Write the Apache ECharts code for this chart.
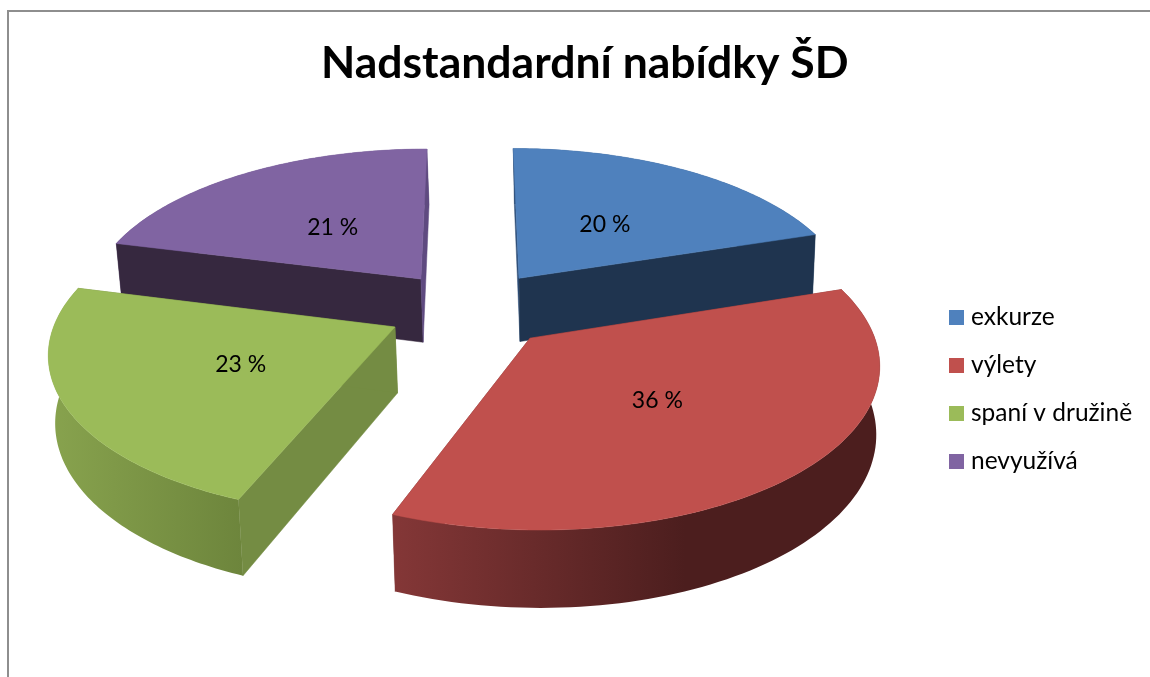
<!DOCTYPE html>
<html>
<head>
<meta charset="utf-8">
<style>html,body{margin:0;padding:0;background:#fff}#c{width:1150px;height:677px}</style>
<script src="https://cdn.jsdelivr.net/npm/echarts@6/dist/echarts.min.js"></script>
</head>
<body>
<div id="c"></div>
<script>
const titleText = 'Nadstandardní nabídky ŠD';
const categories = ['exkurze', 'výlety', 'spaní v družině', 'nevyužívá'];
const values = [20, 36, 23, 21];
const topColors = ['#4f81bd', '#c0504d', '#9bbb59', '#8064a2'];
const startWallColors = ['#2f4f78', '#7a3030', '#748c43', '#36283f'];
const endWallColors = ['#1f344f', '#7a3030', '#748c43', '#5f4a80'];
const outerWallStops = [
  ['#2f4f78', '#2f4f78', 1],
  ['#843737', '#4c1e1e', 0.6],
  ['#88a34e', '#6d853c', 1],
  ['#5f4a80', '#5f4a80', 1]
];
const drawLayers = [1, 2, 2, 1];
const labelShifts = [[-11, 8], [-14, -7], [22, -4], [13, 9]];

const view = {cx: 471, cy: 309, R: 336, Ry: 156, p: 0.14, H: 65, q: 0.14, shrink: 0.9875, pivot: 600, explode: 0.25, labelR: 0.55};

function project(u, v, down) {
  const s = 1 / (1 + view.p * v);
  let x = view.cx + view.R * u * s;
  let y = view.cy - view.Ry * v * s;
  if (down) {
    x = view.pivot + (x - view.pivot) * view.shrink;
    y += view.H / (1 + view.q * v);
  }
  return [x, y];
}

const total = values.reduce((a, b) => a + b, 0);
const starts = values.map((_, i) => values.slice(0, i).reduce((a, b) => a + b, 0));

function makeRender(i) {
  return function (params, api) {
    const val = api.value(0);
    const a0 = starts[i] / total * Math.PI * 2;
    const a1 = a0 + val / total * Math.PI * 2;
    const mid = (a0 + a1) / 2;
    const ou = Math.sin(mid) * view.explode, ov = Math.cos(mid) * view.explode;
    const rim = [];
    const steps = 90;
    for (let k = 0; k <= steps; k++) {
      const a = a0 + (a1 - a0) * k / steps;
      rim.push([ou + Math.sin(a), ov + Math.cos(a)]);
    }
    const apex = [ou, ov];
    const topPts = [project(apex[0], apex[1], false)].concat(rim.map(q => project(q[0], q[1], false)));
    const face = (a, b) => [project(a[0], a[1], false), project(b[0], b[1], false), project(b[0], b[1], true), project(a[0], a[1], true)];
    const outer = rim.map(q => project(q[0], q[1], false)).concat(rim.slice().reverse().map(q => project(q[0], q[1], true)));
    const poly = (points, fill, stroke) => ({type: 'polygon', shape: {points}, style: {fill, stroke: stroke || fill, lineWidth: 0.5}});
    const lp = project(ou + Math.sin(mid) * view.labelR, ov + Math.cos(mid) * view.labelR, false);
    const outerFace = poly(outer, {
      type: 'linear', x: 0, y: 0, x2: 1, y2: 0, global: false,
      colorStops: [{offset: 0, color: outerWallStops[i][0]}, {offset: outerWallStops[i][2], color: outerWallStops[i][1]}, {offset: 1, color: outerWallStops[i][1]}]
    }, 'none');
    const innerFaces = [poly(face(apex, rim[0]), startWallColors[i]), poly(face(apex, rim[steps]), endWallColors[i])];
    const walls = drawLayers[i] === 1 ? [outerFace].concat(innerFaces) : innerFaces.concat([outerFace]);
    return {
      type: 'group',
      children: walls.concat([
        poly(topPts, topColors[i]),
        {type: 'text', x: lp[0] + labelShifts[i][0], y: lp[1] + labelShifts[i][1], style: {
          text: val + ' %', fill: '#000', font: '23px Lato', align: 'center', verticalAlign: 'middle'
        }}
      ])
    };
  };
}

const chart = echarts.init(document.getElementById('c'), null, {renderer: 'canvas'});
chart.setOption({
  animation: false,
  backgroundColor: '#fff',
  title: {
    text: titleText, left: 316, top: 36,
    textStyle: {fontFamily: 'Lato', fontWeight: 'bold', fontSize: 44.5, color: '#000'}
  },
  legend: {
    orient: 'vertical', left: 944, top: 300, itemWidth: 15, itemHeight: 15, itemGap: 23,
    icon: 'rect', data: categories, selectedMode: false,
    textStyle: {fontFamily: 'Lato', fontSize: 24.5, color: '#000', padding: [0, 0, 0, 2], lineHeight: 24}
  },
  graphic: [{
    type: 'polyline', silent: true,
    shape: {points: [[8, 677], [8, 11], [1150, 11]]},
    style: {fill: 'none', stroke: '#8e8e8e', lineWidth: 2}
  }],
  series: categories.map((name, i) => ({
    type: 'custom', name, coordinateSystem: 'none', z: drawLayers[i],
    itemStyle: {color: topColors[i]},
    renderItem: makeRender(i),
    data: [[values[i]]]
  }))
});
</script>
</body>
</html>
